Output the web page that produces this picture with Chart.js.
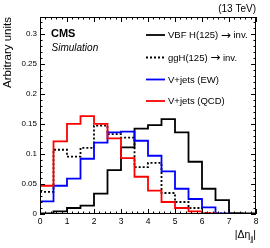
<!DOCTYPE html>
<html>
<head>
<meta charset="utf-8">
<script src="https://cdn.jsdelivr.net/npm/chart.js@4"></script>
<style>
  html, body { margin: 0; padding: 0; background: #fff; }
  #c { display: block; }
</style>
</head>
<body>
<canvas id="c" width="270" height="248"></canvas>
<script>
// bin edges of |delta eta_jj| (width 0.5)
const binLow = [0, 0.5, 1, 1.5, 2, 2.5, 3, 3.5, 4, 4.5, 5, 5.5, 6, 6.5, 7, 7.5];
const xMax = 8;
const xTicks = [0, 1, 2, 3, 4, 5, 6, 7, 8];
const yTicks = [0, 0.05, 0.1, 0.15, 0.2, 0.25, 0.3];

// normalised distributions
const vbfH = [0.001, 0.0045, 0.010, 0.014, 0.034, 0.073, 0.111, 0.142, 0.148, 0.158, 0.136, 0.087, 0.042, 0.023, 0.0015, 0.001];
const ggH  = [0.037, 0.107, 0.0955, 0.110, 0.147, 0.133, 0.127, 0.078, 0.085, 0.035, 0.020, 0.010, 0.002, 0.001, 0, 0];
const vjEW = [0.021, 0.047, 0.059, 0.092, 0.119, 0.136, 0.137, 0.122, 0.097, 0.071, 0.042, 0.025, 0.011, 0.001, 0, 0];
const vjQCD = [0.047, 0.121, 0.150, 0.163, 0.150, 0.126, 0.093, 0.062, 0.039, 0.020, 0.010, 0.0045, 0.001, 0, 0, 0];

const labels = ['VBF H(125) \u2192 inv.', 'ggH(125) \u2192 inv.', 'V+jets (EW)', 'V+jets (QCD)'];

const FONT = '"Liberation Sans", Arial, Helvetica, sans-serif';

// histogram -> step points (last bin repeated at the upper edge)
function steps(vals) {
  const pts = vals.map((v, i) => ({ x: binLow[i], y: v }));
  pts.push({ x: xMax, y: vals[vals.length - 1] });
  return pts;
}

function histo(label, vals, color, dash, order) {
  return {
    label: label,
    data: steps(vals),
    borderColor: color,
    borderWidth: 1.8,
    borderDash: dash,
    stepped: true,
    pointRadius: 0,
    fill: false,
    order: order
  };
}

// legend text with the arrow drawn a bit wider, like ROOT's #rightarrow
function legendText(ctx, text, x, y) {
  const parts = text.split('\u2192');
  ctx.font = '9.5px ' + FONT;
  ctx.fillText(parts[0], x, y);
  if (parts.length < 2) return;
  x += ctx.measureText(parts[0]).width;
  ctx.font = '12px "DejaVu Sans", sans-serif';
  ctx.fillText('\u2192', x, y);
  x += ctx.measureText('\u2192').width;
  ctx.font = '9.5px ' + FONT;
  ctx.fillText(parts[1], x, y);
}

// frame, inner ticks, texts and legend
const decor = {
  id: 'decor',
  afterDraw(chart) {
    const ctx = chart.ctx;
    const a = chart.chartArea;
    const xs = chart.scales.x, ys = chart.scales.y;
    ctx.save();
    ctx.strokeStyle = '#000';
    ctx.lineWidth = 1;
    ctx.strokeRect(a.left + 0.5, a.top + 0.5, a.right - a.left - 1, a.bottom - a.top - 1);

    // x ticks (major every 1, minor every 0.2), bottom and top
    ctx.beginPath();
    for (let i = 0; i <= 40; i++) {
      const px = Math.round(xs.getPixelForValue(i * 0.2)) + 0.5;
      const len = i % 5 === 0 ? 5 : 2.5;
      ctx.moveTo(px, a.bottom); ctx.lineTo(px, a.bottom - len);
      ctx.moveTo(px, a.top); ctx.lineTo(px, a.top + len);
    }
    // y ticks (major every 0.05, minor every 0.01), left and right
    for (let i = 0; i <= 32; i++) {
      const py = Math.round(ys.getPixelForValue(i * 0.01)) + 0.5;
      const len = i % 5 === 0 ? 5 : 2.5;
      ctx.moveTo(a.left, py); ctx.lineTo(a.left + len, py);
      ctx.moveTo(a.right, py); ctx.lineTo(a.right - len, py);
    }
    ctx.stroke();

    ctx.fillStyle = '#000';
    // (13 TeV)
    ctx.font = '10px ' + FONT;
    ctx.textAlign = 'right';
    ctx.textBaseline = 'alphabetic';
    ctx.fillText('(13 TeV)', a.right, 12);

    // CMS / Simulation
    ctx.textAlign = 'left';
    ctx.font = 'bold 11px ' + FONT;
    ctx.fillText('CMS', 51, 37);
    ctx.font = 'italic 10px ' + FONT;
    ctx.fillText('Simulation', 51.5, 51);

    // legend
    const rowY = [35, 57.5, 79.5, 101];
    ctx.textBaseline = 'middle';
    chart.data.datasets.forEach((ds, i) => {
      ctx.beginPath();
      ctx.strokeStyle = ds.borderColor;
      ctx.lineWidth = ds.borderWidth;
      ctx.setLineDash(ds.borderDash || []);
      ctx.moveTo(146, rowY[i]);
      ctx.lineTo(165, rowY[i]);
      ctx.stroke();
      ctx.setLineDash([]);
      legendText(ctx, ds.label, 168, rowY[i] + 0.5);
    });

    // y title
    ctx.save();
    ctx.translate(10.5, a.top);
    ctx.rotate(-Math.PI / 2);
    ctx.textAlign = 'right';
    ctx.textBaseline = 'alphabetic';
    ctx.font = '11.5px ' + FONT;
    ctx.fillText('Arbitrary units', 0, 0);
    ctx.restore();

    // x title |Δη_jj|
    ctx.textBaseline = 'alphabetic';
    ctx.textAlign = 'left';
    const big = '10.5px ' + FONT, small = '6.5px ' + FONT;
    ctx.font = big;
    const w1 = ctx.measureText('|\u0394\u03b7').width;
    const w3 = ctx.measureText('|').width;
    ctx.font = small;
    const w2 = ctx.measureText('jj').width;
    const x0 = a.right - (w1 + w2 + w3);
    const by = 238;
    ctx.font = big;
    ctx.fillText('|\u0394\u03b7', x0, by);
    ctx.font = small;
    ctx.fillText('jj', x0 + w1, by + 2.5);
    ctx.font = big;
    ctx.fillText('|', x0 + w1 + w2, by);
    ctx.restore();
  }
};

new Chart(document.getElementById('c'), {
  type: 'line',
  data: {
    datasets: [
      histo(labels[0], vbfH, '#000000', [], 4),
      histo(labels[1], ggH, '#000000', [2, 2], 3),
      histo(labels[2], vjEW, '#0000ff', [], 2),
      histo(labels[3], vjQCD, '#ff0000', [], 1)
    ]
  },
  options: {
    responsive: false,
    animation: false,
    devicePixelRatio: 1,
    layout: { padding: { top: 17, right: 14, left: 0, bottom: 0 } },
    plugins: { legend: { display: false }, tooltip: { enabled: false } },
    scales: {
      x: {
        type: 'linear',
        min: 0,
        max: xMax,
        afterFit: s => { s.height = 34; },
        afterBuildTicks: s => { s.ticks = xTicks.map(v => ({ value: v })); },
        grid: { display: false, drawTicks: false },
        border: { display: false },
        ticks: { autoSkip: false, maxRotation: 0, padding: 3, color: '#000', font: { size: 8.5, family: FONT } }
      },
      y: {
        type: 'linear',
        min: 0,
        max: 0.328,
        afterFit: s => { s.width = 40; },
        afterBuildTicks: s => { s.ticks = yTicks.map(v => ({ value: v })); },
        grid: { display: false, drawTicks: false },
        border: { display: false },
        ticks: {
          padding: 3,
          color: '#000',
          font: { size: 8, family: FONT },
          callback: v => String(Math.round(v * 100) / 100)
        }
      }
    }
  },
  plugins: [decor]
});
</script>
</body>
</html>
